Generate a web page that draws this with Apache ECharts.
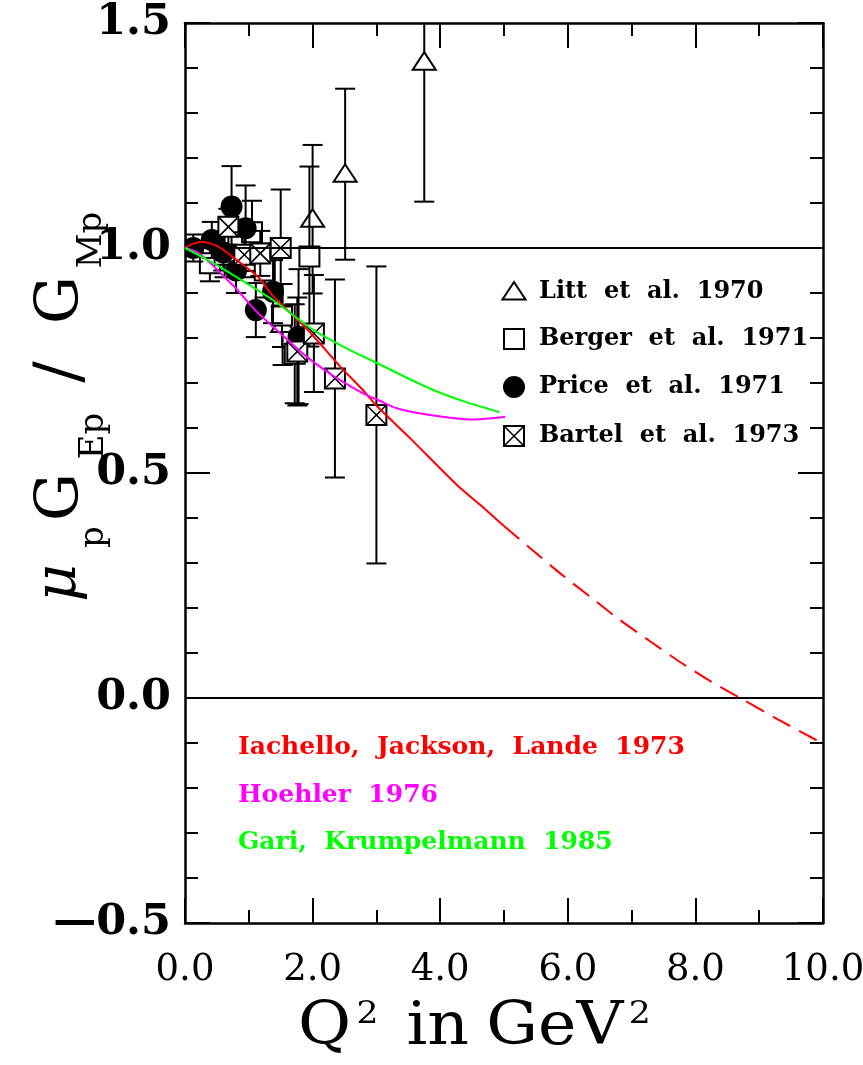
<!DOCTYPE html>
<html>
<head>
<meta charset="utf-8">
<script src="https://cdn.jsdelivr.net/npm/echarts@6/dist/echarts.min.js"></script>
<style>
html,body{margin:0;padding:0;background:#fff}
#chart{width:863px;height:1065px}
</style>
</head>
<body>
<div id="chart"></div>
<script>
// ---- measurements: Q^2 (GeV^2), mu_p G_Ep / G_Mp, error ----
const littQ2   = [1.53, 2.00, 2.51, 3.75];
const littVal  = [0.830, 1.064, 1.164, 1.413];
const littErr  = [0.090, 0.165, 0.190, 0.310];

const bergerQ2  = [0.39, 0.62, 1.05, 1.25, 1.52, 1.72, 1.95];
const bergerVal = [0.966, 0.985, 1.035, 0.950, 0.850, 0.765, 0.981];
const bergerErr = [0.040, 0.050, 0.070, 0.060, 0.070, 0.110, 0.200];

const priceQ2  = [0.13, 0.42, 0.60, 0.73, 0.80, 0.95, 1.11, 1.38, 1.78];
const priceVal = [1.000, 1.018, 0.990, 1.092, 0.950, 1.044, 0.862, 0.903, 0.803];
const priceErr = [0.030, 0.040, 0.040, 0.090, 0.050, 0.095, 0.060, 0.070, 0.150];

const bartelQ2  = [0.68, 0.93, 1.18, 1.50, 1.76, 2.02, 2.35, 3.00];
const bartelVal = [1.047, 0.985, 0.988, 1.000, 0.770, 0.810, 0.710, 0.629];
const bartelErr = [0.040, 0.050, 0.050, 0.130, 0.120, 0.130, 0.220, 0.330];

// ---- model curves ----
const ijlQ2  = [0, 0.1, 0.26, 0.52, 0.84, 1.15, 1.38, 1.91, 2.43, 2.79, 3.0, 3.53, 4.0, 4.31, 4.62, 5.0];
const ijlVal = [1.0, 1.008, 1.014, 1.003, 0.970, 0.935, 0.893, 0.820, 0.737, 0.684, 0.650, 0.577, 0.510, 0.467, 0.430, 0.382];
const ijlExtQ2  = [5.0, 5.41, 5.88, 6.35, 6.82, 7.3, 7.76, 8.25, 8.75, 9.3, 9.85, 10.0];
const ijlExtVal = [0.382, 0.333, 0.277, 0.225, 0.173, 0.125, 0.080, 0.036, -0.004, -0.048, -0.090, -0.100];

const hoehlerQ2  = [0, 0.2, 0.4, 0.6, 0.8, 1.1, 1.38, 1.6, 1.91, 2.27, 2.59, 2.79, 3.06, 3.32, 3.84, 4.52, 5.02];
const hoehlerVal = [1.0, 0.990, 0.966, 0.938, 0.910, 0.862, 0.825, 0.797, 0.758, 0.721, 0.693, 0.677, 0.660, 0.644, 0.629, 0.619, 0.625];

const gkQ2  = [0, 0.31, 0.63, 1.05, 1.41, 2.01, 2.53, 3.0, 3.5, 3.9, 4.4, 4.93];
const gkVal = [1.0, 0.977, 0.951, 0.914, 0.881, 0.818, 0.777, 0.745, 0.710, 0.684, 0.658, 0.635];

const refLevels = [0, 1];

const dataLabels  = ['Litt  et  al.  1970', 'Berger  et  al.  1971', 'Price  et  al.  1971', 'Bartel  et  al.  1973'];
const dataSymbols = ['triangle', 'square', 'circle', 'crossed'];
const modelLabels = ['Iachello,  Jackson,  Lande  1973', 'Hoehler  1976', 'Gari,  Krumpelmann  1985'];
const modelColors = ['#ff0000', '#ff00ff', '#00ff00'];

const SERIF = "'DejaVu Serif', serif";

function zip(xs, ys, es) {
  return xs.map((x, i) => es ? [x, ys[i], es[i]] : [x, ys[i]]);
}

// Marker shape centred on (cx, cy)
function symbolShapes(kind, cx, cy) {
  const h = 10;
  const st = { fill: '#fff', stroke: '#000', lineWidth: 2 };
  if (kind === 'circle') {
    return [{ type: 'circle', shape: { cx, cy, r: 11 }, style: { fill: '#000' } }];
  }
  if (kind === 'triangle') {
    return [{ type: 'polygon', shape: { points: [[cx, cy - 10], [cx - 11.5, cy + 7.5], [cx + 11.5, cy + 7.5]] }, style: st }];
  }
  const out = [{ type: 'rect', shape: { x: cx - h, y: cy - h, width: 2 * h, height: 2 * h }, style: st }];
  if (kind === 'crossed') {
    out.push({ type: 'line', shape: { x1: cx - h, y1: cy - h, x2: cx + h, y2: cy + h }, style: { stroke: '#000', lineWidth: 1.6 } });
    out.push({ type: 'line', shape: { x1: cx - h, y1: cy + h, x2: cx + h, y2: cy - h }, style: { stroke: '#000', lineWidth: 1.6 } });
  }
  return out;
}

function pointSeries(name, q2, val, err, kind) {
  return {
    type: 'custom',
    name: name,
    clip: true,
    z: 3,
    data: zip(q2, val, err),
    renderItem: function (params, api) {
      const x = api.value(0), y = api.value(1), e = api.value(2);
      const c = api.coord([x, y]);
      const top = api.coord([x, y + e])[1];
      const bot = api.coord([x, y - e])[1];
      const cap = 10;
      const ls = { stroke: '#000', lineWidth: 2 };
      const children = [
        { type: 'line', shape: { x1: c[0], y1: top, x2: c[0], y2: bot }, style: ls },
        { type: 'line', shape: { x1: c[0] - cap, y1: top, x2: c[0] + cap, y2: top }, style: ls },
        { type: 'line', shape: { x1: c[0] - cap, y1: bot, x2: c[0] + cap, y2: bot }, style: ls }
      ].concat(symbolShapes(kind, c[0], c[1]));
      return { type: 'group', children: children };
    }
  };
}

function curve(name, q2, val, color, dashed) {
  return {
    type: 'line', name: name, data: zip(q2, val), showSymbol: false, symbol: 'none',
    smooth: 0.25, z: 5, clip: true,
    lineStyle: { color: color, width: 2, type: dashed ? [20, 10] : 'solid' }
  };
}

// tick label text; negative values get a long dash as in the printed figure
const fmt = v => (v < 0 ? '\u2014' : '') + Math.abs(v).toFixed(1);

const tickLine = { color: '#000', width: 2 };
function xAxisDef(pos, labels) {
  return {
    type: 'value', position: pos, min: 0, max: 10, interval: 2,
    axisLine: { show: true, onZero: false, lineStyle: { color: '#000', width: 2.5 } },
    axisTick: { show: true, inside: true, length: 25, lineStyle: tickLine },
    minorTick: { show: true, splitNumber: 2, length: 13, lineStyle: tickLine },
    splitLine: { show: false },
    axisLabel: { show: labels, formatter: fmt, color: '#000', fontFamily: SERIF, fontSize: 37, margin: 29, hideOverlap: false }
  };
}
function yAxisDef(pos, labels) {
  return {
    type: 'value', position: pos, min: -0.5, max: 1.5, interval: 0.5,
    axisLine: { show: true, onZero: false, lineStyle: { color: '#000', width: 2.5 } },
    axisTick: { show: true, inside: true, length: 25, lineStyle: tickLine },
    minorTick: { show: true, splitNumber: 5, length: 13, lineStyle: tickLine },
    splitLine: { show: false },
    axisLabel: { show: labels, formatter: fmt, color: '#000', fontFamily: SERIF, fontWeight: 'bold', fontSize: 43, margin: 14 }
  };
}

// Legend for the measurements (symbols + names), and model names
const graphics = [];
const legendX = 514, legendRows = [292, 339, 387, 436];
dataLabels.forEach((t, i) => {
  graphics.push({ type: 'group', children: symbolShapes(dataSymbols[i], legendX, legendRows[i]) });
  graphics.push({ type: 'text', x: 539, y: legendRows[i], style: { text: t, fill: '#000', font: 'bold 24px ' + SERIF, verticalAlign: 'middle', align: 'left' } });
});
const modelRows = [747, 795, 842];
modelLabels.forEach((t, i) => {
  graphics.push({ type: 'text', x: 238, y: modelRows[i], style: { text: t, fill: modelColors[i], font: 'bold 25px ' + SERIF, verticalAlign: 'middle', align: 'left' } });
});

// x-axis title: Q^2 in GeV^2 (slightly widened letterforms)
graphics.push({
  type: 'text', x: 298, y: 1028, scaleX: 1.08,
  style: {
    text: '{a|Q}{s|2}{gap1|}{a|in}{gap2|}{a|GeV}{s|2}', align: 'left', verticalAlign: 'middle',
    rich: {
      a: { fontFamily: SERIF, fontSize: 60, fill: '#000', lineHeight: 62 },
      s: { fontFamily: SERIF, fontSize: 32, fill: '#000', verticalAlign: 'top', lineHeight: 62, padding: [2, 0, 0, 5] },
      gap1: { width: 26 },
      gap2: { width: 16 }
    }
  }
});

// y-axis title: mu_p G_Ep / G_Mp, reading bottom to top
const yTitle = [
  { t: '\u03bc', cy: 583, cx: 60, size: 58, italic: true },
  { t: 'p',      cy: 537, cx: 94, size: 34 },
  { t: 'G',      cy: 497, cx: 62, size: 60 },
  { t: 'Ep',     cy: 436, cx: 94, size: 34 },
  { t: '/',      cy: 372, cx: 62, size: 64 },
  { t: 'G',      cy: 300, cx: 62, size: 60 },
  { t: 'Mp',     cy: 240, cx: 92, size: 34 }
];
graphics.push({
  type: 'group', x: 0, y: 0, rotation: Math.PI / 2,
  children: yTitle.map(p => ({
    type: 'text', x: -p.cy, y: p.cx,
    style: { text: p.t, fill: '#000', font: (p.italic ? 'italic ' : '') + p.size + 'px ' + SERIF, align: 'center', verticalAlign: 'middle' }
  }))
});

const series = [
  pointSeries(dataLabels[0], littQ2, littVal, littErr, 'triangle'),
  pointSeries(dataLabels[1], bergerQ2, bergerVal, bergerErr, 'square'),
  pointSeries(dataLabels[2], priceQ2, priceVal, priceErr, 'circle'),
  pointSeries(dataLabels[3], bartelQ2, bartelVal, bartelErr, 'crossed'),
  Object.assign(curve(modelLabels[0], ijlQ2, ijlVal, modelColors[0], false), {
    markLine: {
      silent: true, symbol: 'none', label: { show: false },
      lineStyle: { color: '#000', width: 2, type: 'solid' },
      data: refLevels.map(v => ({ yAxis: v }))
    }
  }),
  curve(modelLabels[0] + ' ext', ijlExtQ2, ijlExtVal, modelColors[0], true),
  curve(modelLabels[1], hoehlerQ2, hoehlerVal, modelColors[1], false),
  curve(modelLabels[2], gkQ2, gkVal, modelColors[2], false)
];

const chart = echarts.init(document.getElementById('chart'), null, { renderer: 'canvas' });
chart.setOption({
  animation: false,
  backgroundColor: '#fff',
  grid: { left: 185, top: 23, width: 638, height: 900, containLabel: false, outerBoundsMode: 'none' },
  xAxis: [xAxisDef('bottom', true), xAxisDef('top', false)],
  yAxis: [yAxisDef('left', true), yAxisDef('right', false)],
  series: series,
  graphic: graphics
});
</script>
</body>
</html>
